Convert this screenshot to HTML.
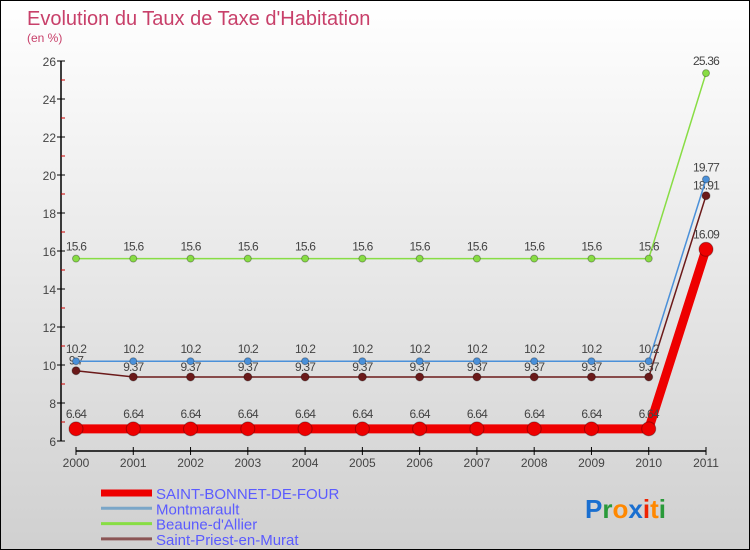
<!DOCTYPE html>
<html><head><meta charset="utf-8"><style>
body{margin:0;}
#c{position:relative;width:748px;height:548px;border:1px solid #000;background:linear-gradient(#fff,#d0d0d0);font-family:"Liberation Sans",sans-serif;overflow:hidden;}
svg{position:absolute;left:0;top:0;}
</style></head><body>
<div id="c">
<svg id="s" width="748" height="548">
<text x="26" y="24" font-size="20" fill="#c8406a">Evolution du Taux de Taxe d'Habitation</text>
<text x="26" y="41" font-size="12" fill="#c8406a">(en %)</text>
</svg>
</div>
<script>
const years=["2000","2001","2002","2003","2004","2005","2006","2007","2008","2009","2010","2011"];
const yTicks=[6,8,10,12,14,16,18,20,22,24,26];
const sbf=[6.64,6.64,6.64,6.64,6.64,6.64,6.64,6.64,6.64,6.64,6.64,16.09];
const mont=[10.2,10.2,10.2,10.2,10.2,10.2,10.2,10.2,10.2,10.2,10.2,19.77];
const beau=[15.6,15.6,15.6,15.6,15.6,15.6,15.6,15.6,15.6,15.6,15.6,25.36];
const stp=[9.7,9.37,9.37,9.37,9.37,9.37,9.37,9.37,9.37,9.37,9.37,18.91];
const names=["SAINT-BONNET-DE-FOUR","Montmarault","Beaune-d'Allier","Saint-Priest-en-Murat"];
const NS="http://www.w3.org/2000/svg";
const svg=document.getElementById('s');
function X(i){return 75+i*(630/(years.length-1));}
function Y(v){return 440-(v-6)*19;}
function el(t,a,p){const e=document.createElementNS(NS,t);for(const k in a)e.setAttribute(k,a[k]);(p||svg).appendChild(e);return e;}
let ya=el('line',{x1:60,y1:Y(26),x2:60,y2:440,stroke:'#000','stroke-width':1.5});


yTicks.forEach((v,k)=>{
  el('line',{x1:56,x2:64,y1:Y(v),y2:Y(v),stroke:'#000'});
  if(k<yTicks.length-1)el('line',{x1:60,x2:64,y1:Y(v+1),y2:Y(v+1),stroke:'#c00'});
  const t=el('text',{x:55,y:Y(v)+5,'font-size':12,fill:'#444','text-anchor':'end'});
  t.textContent=v;
  
  
});
let xa=el('line',{x1:X(0),y1:450,x2:X(11),y2:450,stroke:'#000','stroke-width':1.5});


years.forEach((y,i)=>{
  el('line',{x1:X(i),x2:X(i),y1:446,y2:454,stroke:'#000'});
  const t=el('text',{x:X(i),y:466,'font-size':12,fill:'#444','text-anchor':'middle'});
  t.textContent=y;
  
  
});
function series(d,col,w,r,name,labOff){
  const g=el('g',{});
  
  
  el('polyline',{points:d.map((v,i)=>X(i)+','+Y(v)).join(' '),fill:'none',stroke:col,'stroke-width':w},g);
  d.forEach((v,i)=>{
    const c=el('circle',{cx:X(i),cy:Y(v),r:r,fill:col,stroke:'rgba(0,0,0,0.3)'},g);
    
    
    const t=el('text',{x:X(i),y:Y(v)-labOff,'font-size':12,fill:'#444','text-anchor':'middle','letter-spacing':'-0.8'},g);
    t.textContent=String(v);
    
    
  });
}
series(beau,'#88dd44',1.5,3.5,'series-beaune',8);
series(stp,'#6b1a1a',1.5,4,'series-saint-priest',6);
series(mont,'#4a90d9',1.5,3.5,'series-montmarault',8);
series(sbf,'#ee0000',9,7,'series-saint-bonnet',11);
const lc=['#ee0000','#7aa6c8','#88dd44','#8b5555'],lw=[7,3,3,3];
names.forEach((n,i)=>{
  const y=492+i*15.3;
  const g=el('g',{});
  
  
  el('line',{x1:100,x2:151,y1:y,y2:y,stroke:lc[i],'stroke-width':lw[i]},g);
  const t=el('text',{x:155,y:y+6,'font-size':15,fill:'#5b5bff'},g);
  t.textContent=n;
});
const lg=el('text',{x:584,y:517,'font-size':26,'font-weight':'bold','font-family':'Liberation Sans, sans-serif'});


[['P','#1a6fd0'],['r','#2a9a3a'],['o','#ff8800'],['x','#1a6fd0'],['i','#ee2200'],['t','#ff8800'],['i','#2a9a3a']].forEach(([c,f])=>{
  const s=el('tspan',{fill:f},lg);s.textContent=c;
});
</script>
</body></html>
